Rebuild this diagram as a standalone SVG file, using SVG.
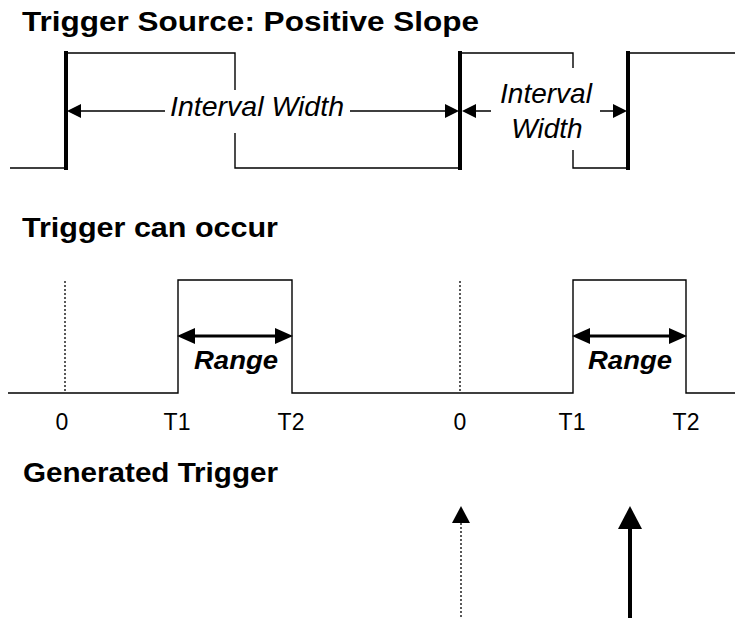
<svg xmlns="http://www.w3.org/2000/svg" width="735" height="618" viewBox="0 0 735 618">
<style>
.t{font-family:"Liberation Sans",Arial,sans-serif;fill:#000}
.title{font-size:28px;font-weight:bold}
.it{font-size:28px;font-style:italic}
.lbl{font-size:23px;text-anchor:middle}
.rng{font-size:25px;font-weight:bold;font-style:italic;text-anchor:middle}
.thin{fill:none;stroke:#000;stroke-width:1.4}
.thick{fill:none;stroke:#000;stroke-width:4}
.dot{fill:none;stroke:#000;stroke-width:1.3;stroke-dasharray:2,2}
.head{fill:#000}
</style>
<rect width="735" height="618" fill="#fff"/>
<g id="source-signal">
<text class="t title" x="22" y="31" textLength="457" lengthAdjust="spacingAndGlyphs">Trigger Source: Positive Slope</text>
<path class="thin" d="M10,168H66M66,53H235V90M235,133V168H460M460,53H573V68M573,150V168H628M628,53H735"/>
<path class="thick" d="M66,51V170M460,51V170M628,51V170"/>
</g>
<g id="interval-arrows">
<path class="thin" d="M80,111H165M350,111H445M476,111H491M600,111H614"/>
<polygon class="head" points="67,111 81,104 81,118"/>
<polygon class="head" points="459,111 445,104 445,118"/>
<polygon class="head" points="462,111 476,104 476,118"/>
<polygon class="head" points="627,111 613,104 613,118"/>
<text class="t it" x="170" y="116" textLength="174" lengthAdjust="spacingAndGlyphs">Interval Width</text>
<text class="t it" x="546" y="103" text-anchor="middle">Interval</text>
<text class="t it" x="547" y="138" text-anchor="middle">Width</text>
</g>
<g id="trigger-window">
<text class="t title" x="22" y="237" textLength="256" lengthAdjust="spacingAndGlyphs">Trigger can occur</text>
<path class="thin" d="M8,393H178V280H292V393H573V280H686V393H735"/>
<path class="dot" d="M65,281V392M460,281V392"/>
</g>
<g id="range-arrows">
<path fill="none" stroke="#000" stroke-width="3" d="M192,336H278M587,336H672"/>
<polygon class="head" points="177,336 195,328 195,344"/>
<polygon class="head" points="293,336 275,328 275,344"/>
<polygon class="head" points="572,336 590,328 590,344"/>
<polygon class="head" points="687,336 669,328 669,344"/>
<text class="t rng" x="236" y="369" textLength="84" lengthAdjust="spacingAndGlyphs">Range</text>
<text class="t rng" x="630" y="369" textLength="84" lengthAdjust="spacingAndGlyphs">Range</text>
</g>
<g id="axis-labels">
<text class="t lbl" x="62" y="430">0</text>
<text class="t lbl" x="177" y="430">T1</text>
<text class="t lbl" x="291" y="430">T2</text>
<text class="t lbl" x="460" y="430">0</text>
<text class="t lbl" x="572" y="430">T1</text>
<text class="t lbl" x="686" y="430">T2</text>
</g>
<g id="generated-trigger">
<text class="t title" x="23" y="482" textLength="255" lengthAdjust="spacingAndGlyphs">Generated Trigger</text>
<path class="dot" d="M461,523V618"/>
<polygon class="head" points="461,506 452,523 470,523"/>
<path class="thick" d="M630,527V618"/>
<polygon class="head" points="630,506 618,529 642,529"/>
</g>
</svg>
